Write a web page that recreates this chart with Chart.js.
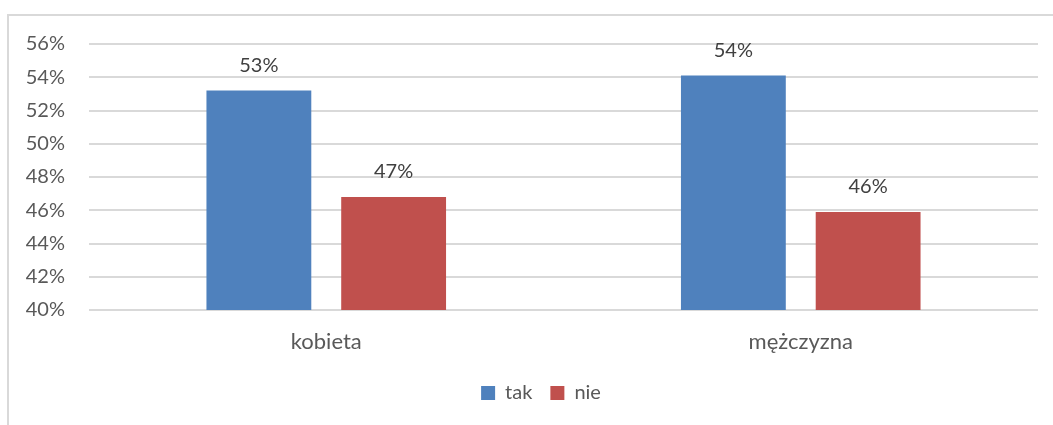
<!DOCTYPE html>
<html>
<head>
<meta charset="utf-8">
<script src="https://cdn.jsdelivr.net/npm/chart.js@4/dist/chart.umd.min.js"></script>
<style>
  html, body { margin: 0; padding: 0; background: #ffffff; }
  #wrap { position: relative; width: 1053px; height: 425px; }
  canvas { display: block; }
</style>
</head>
<body>
<div id="wrap"><canvas id="c" width="1053" height="425"></canvas></div>
<script>
const categories = ["kobieta", "mężczyzna"];
const seriesNames = ["tak", "nie"];
const takValues = [53.2, 54.1];
const nieValues = [46.8, 45.9];
const yTicks = [40, 42, 44, 46, 48, 50, 52, 54, 56];

const FONT = "Lato, 'Noto Sans', sans-serif";
const TEXT = "#595959";

const framePlugin = {
  id: "frame",
  beforeDraw(chart) {
    const ctx = chart.ctx;
    ctx.save();
    ctx.strokeStyle = "#d9d9d9";
    ctx.lineWidth = 2;
    ctx.beginPath();
    ctx.moveTo(7, 15);
    ctx.lineTo(1053, 15);
    ctx.moveTo(8, 14);
    ctx.lineTo(8, 425);
    ctx.stroke();
    ctx.restore();
  }
};

const legendShift = {
  id: "legendShift",
  afterLayout(chart) {
    if (chart.legend) {
      chart.legend.left += 22;
      chart.legend.right += 22;
    }
  }
};

const labelPlugin = {
  id: "barLabels",
  afterDatasetsDraw(chart) {
    const ctx = chart.ctx;
    ctx.save();
    ctx.font = "20px " + FONT;
    ctx.fillStyle = "#404040";
    ctx.textAlign = "center";
    ctx.textBaseline = "middle";
    chart.data.datasets.forEach((ds, i) => {
      const meta = chart.getDatasetMeta(i);
      meta.data.forEach((bar, j) => {
        ctx.fillText(Math.round(ds.data[j]) + "%", bar.x, bar.y - 25);
      });
    });
    ctx.restore();
  }
};

new Chart(document.getElementById("c"), {
  type: "bar",
  data: {
    labels: categories,
    datasets: [
      { label: seriesNames[0], data: takValues, backgroundColor: "#4f81bd",
        categoryPercentage: 0.568, barPercentage: 0.778 },
      { label: seriesNames[1], data: nieValues, backgroundColor: "#c0504d",
        categoryPercentage: 0.568, barPercentage: 0.778 }
    ]
  },
  options: {
    responsive: false,
    animation: false,
    devicePixelRatio: 1,
    layout: { padding: { top: 44, right: 15, bottom: 12, left: 0 } },
    plugins: {
      legend: {
        position: "bottom",
        labels: {
          font: { family: FONT, size: 20 },
          color: TEXT,
          boxWidth: 14,
          boxHeight: 14,
          padding: 18
        }
      },
      tooltip: { enabled: false }
    },
    scales: {
      x: {
        grid: { display: false, drawTicks: false },
        border: { display: false },
        ticks: { font: { family: FONT, size: 22 }, color: TEXT, padding: 19 },
        afterFit(scale) { scale.height = 55; }
      },
      y: {
        min: 40,
        max: 56,
        afterBuildTicks(scale) { scale.ticks = yTicks.map(v => ({ value: v })); },
        grid: { color: "#d9d9d9", lineWidth: 2, drawTicks: false },
        border: { display: false },
        ticks: {
          font: { family: FONT, size: 20 },
          color: TEXT,
          padding: 24,
          callback: v => v + "%"
        },
        afterFit(scale) { scale.width = 89; }
      }
    }
  },
  plugins: [framePlugin, legendShift, labelPlugin]
});
</script>
</body>
</html>
